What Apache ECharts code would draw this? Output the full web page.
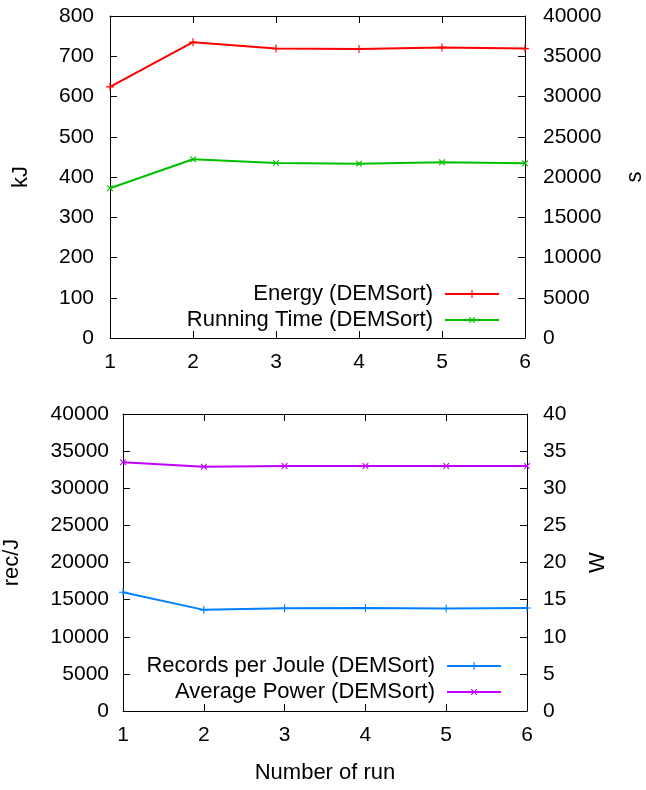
<!DOCTYPE html>
<html>
<head>
<meta charset="utf-8">
<script src="https://cdn.jsdelivr.net/npm/echarts@6/dist/echarts.min.js"></script>
<style>
html, body { margin: 0; padding: 0; background: #fff; }
#chart { width: 646px; height: 790px; }
</style>
</head>
<body>
<div id="chart"></div>
<script>
var runs = [1, 2, 3, 4, 5, 6];
var energyKJ = [624, 735, 719, 718, 722, 719];
var runningTimeS = [18600, 22200, 21740, 21660, 21820, 21700];
var recordsPerJoule = [16000, 13620, 13840, 13880, 13800, 13880];
var averagePowerW = [33.5, 32.9, 33.0, 33.0, 33.0, 33.0];

function pairs(vals) {
    return runs.map(function (r, i) { return [r, vals[i]]; });
}

var plus = 'path://M4.3,0h1.4v4.3h4.3v1.4h-4.3v4.3h-1.4v-4.3h-4.3v-1.4h4.3z';
var font = 'Liberation Sans, Arial, sans-serif';
var txt = { color: '#000', fontSize: 21, fontFamily: font };
var big = { color: '#000', fontSize: 22, fontFamily: font };

function yAx(grid, pos, max, interval, name, gap, margin) {
    return {
        type: 'value', gridIndex: grid, position: pos, min: 0, max: max, interval: interval,
        name: name, nameLocation: 'middle', nameGap: gap, nameTextStyle: big,
        axisLine: { show: true, onZero: false, lineStyle: { color: '#000', width: 1 } },
        axisTick: { show: true, inside: true, length: 7, lineStyle: { color: '#000' } },
        axisLabel: Object.assign({ margin: margin, formatter: function (v) { return String(v); } }, txt),
        splitLine: { show: false }
    };
}
function xAx(grid, pos, showLabel, name) {
    return {
        type: 'value', gridIndex: grid, position: pos, min: 1, max: 6, interval: 1,
        name: name, nameLocation: 'middle', nameGap: 51, nameTextStyle: big,
        axisLine: { show: true, onZero: false, lineStyle: { color: '#000', width: 1 } },
        axisTick: { show: true, inside: true, length: 7, lineStyle: { color: '#000' } },
        axisLabel: Object.assign({ show: showLabel, margin: 14 }, txt),
        splitLine: { show: false }
    };
}
function line(name, xi, yi, vals, color, rot) {
    return {
        name: name, type: 'line', xAxisIndex: xi, yAxisIndex: yi, data: pairs(vals),
        symbol: plus, symbolSize: 8, symbolRotate: rot,
        lineStyle: { color: color, width: 2 },
        itemStyle: { color: color },
        animation: false
    };
}
function legend(names, right, top) {
    return {
        data: names, orient: 'vertical', align: 'right', right: right, top: top,
        padding: 0, itemWidth: 54, itemHeight: 10, itemGap: 4,
        textStyle: Object.assign({ padding: [0, 7, 0, 0], lineHeight: 22 }, big)
    };
}

var chart = echarts.init(document.getElementById('chart'));
chart.setOption({
    backgroundColor: '#fff',
    grid: [
        { left: 110, right: 121, top: 16, height: 322, outerBoundsMode: 'none' },
        { left: 123, right: 119, top: 414, height: 297, outerBoundsMode: 'none' }
    ],
    xAxis: [
        xAx(0, 'bottom', true, ''),
        xAx(0, 'top', false, ''),
        xAx(1, 'bottom', true, 'Number of run'),
        xAx(1, 'top', false, '')
    ],
    yAxis: [
        yAx(0, 'left', 800, 100, 'kJ', 78, 16),
        yAx(0, 'right', 40000, 5000, 's', 99, 18),
        yAx(1, 'left', 40000, 5000, 'rec/J', 100, 14),
        yAx(1, 'right', 40, 5, 'W', 60, 16)
    ],
    legend: [
        legend(['Energy (DEMSort)', 'Running Time (DEMSort)'], 146, 283),
        legend(['Records per Joule (DEMSort)', 'Average Power (DEMSort)'], 144, 655)
    ],
    series: [
        line('Energy (DEMSort)', 0, 0, energyKJ, '#ff0000', 0),
        line('Running Time (DEMSort)', 0, 1, runningTimeS, '#00c000', 45),
        line('Records per Joule (DEMSort)', 2, 2, recordsPerJoule, '#0080ff', 0),
        line('Average Power (DEMSort)', 2, 3, averagePowerW, '#c000ff', 45)
    ]
});
</script>
</body>
</html>
